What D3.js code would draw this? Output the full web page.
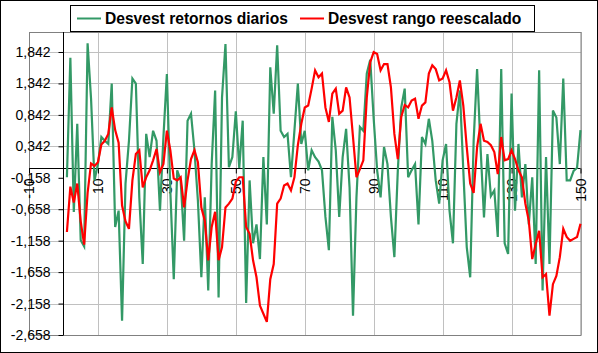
<!DOCTYPE html>
<html lang="es">
<head>
    <meta charset="UTF-8">
    <title>Desvest</title>
    <script src="https://d3js.org/d3.v7.min.js"></script>
    <style>
        body { margin: 0; background: #fff; }
        svg text { font-family: "Liberation Sans", Arial, sans-serif; }
        .leg text { font-weight: bold; font-size: 15.6px; }
        .axis text { font-size: 14px; fill: #000; }
    </style>
</head>
<body>
    <svg id="chart"></svg>
    <script>
        // Datos
        const dias = d3.range(1, 151);

        const retornosDiarios = [
            -0.15, 1.75, -0.7, 0.7, -1.15, -1.25, 1.98, 1.1, -0.2, 0.06,
            0.49, 0.43, 0.38, 1.34, -0.94, -0.68, -2.43, -0.25, 0.43, 1.42,
            1.34, -0.47, -1.53, 0.54, 0.17, 0.59, 0.43, -0.68, 0.49, 1.49,
            -0.36, -1.77, -0.04, -0.2, -1.16, 0.75, 0.86, 0.28, -0.52, -1.74,
            -0.47, -1.95, 0.06, 1.23, -2.06, 1.12, 1.97, 0.01, 0.17, 0.9,
            0.0, 0.75, -2.15, -0.2, -1.2, -0.9, -1.45, 0.17, -0.9, 1.6,
            0.86, 1.95, 0.59, 0.49, 0.54, -0.15, 0.59, 1.34, 0.38, 0.59,
            -0.04, 0.28, 0.17, 0.1, -0.04, -0.78, -1.31, 0.81, 0.28, -0.78,
            0.17, 0.62, -0.31, -2.35, -0.47, 0.65, 0.59, 1.5, 1.72, 0.78,
            -0.04, -0.47, 0.33, 0.06, -0.78, -1.42, -0.04, 0.96, 1.26, -0.15,
            -0.04, 0.06, -0.9, 0.49, 0.38, 0.78, 0.43, -0.2, -0.57, 0.12,
            0.38, -0.68, -1.2, 0.7, 1.23, -0.04, -1.26, -1.74, 0.43, 1.57,
            0.33, -0.79, 0.22, -0.45, -0.36, -1.1, 1.57, -1.2, -1.37, 1.18,
            -0.68, 0.38, -0.47, 0.06, -0.9, -0.15, -1.53, 1.55, -1.95, 0.17,
            -1.53, 0.91, 0.8, 0.06, 1.42, -0.2, -0.2, -0.05, 0.0, 0.6
        ];

        const rangoReescalado = [
            -1.02, -0.3, -0.55, -0.25, -0.85, -1.22, -0.4, 0.07, 0.03, 0.09,
            0.37, 0.43, 0.54, 0.96, 0.6, 0.4, -0.6, -0.85, -0.97, -0.2,
            0.22, 0.28, -0.31, -0.15, -0.04, 0.12, 0.3, -0.07, 0.06, 0.59,
            0.28, -0.17, -0.2, -0.15, -0.63, -0.2, 0.14, 0.28, 0.09, -0.63,
            -0.84, -1.47, -0.94, -0.7, -1.47, -1.26, -0.63, -0.57, -0.49, -0.22,
            -0.15, -0.15, -0.94, -1.05, -1.47, -1.74, -2.19, -2.32, -2.45, -1.77,
            -1.53, -0.57, -0.49, -0.28, -0.25, -0.36, -0.15, 0.36, 0.7, 0.96,
            0.99, 1.26, 1.55, 1.44, 1.5, 0.96, 0.73, 1.18, 1.26, 0.86,
            0.91, 1.28, 1.12, 0.49, -0.15, -0.02, 0.12, 1.12, 1.68, 1.84,
            1.81, 1.55, 1.65, 1.65, 1.28, 0.54, 0.14, 0.81, 1.0, 0.96,
            1.07, 1.1, 0.78, 0.99, 1.04, 1.5, 1.63, 1.57, 1.39, 1.42,
            1.55, 1.36, 0.91, 1.12, 1.39, 0.99, 0.33, -0.25, -0.4, 0.33,
            0.7, 0.43, 0.41, 0.36, 0.25, -0.1, 0.49, 0.12, 0.14, 0.28,
            0.14, -0.04, -0.15, -0.57, -0.84, -1.45, -1.21, -1.0, -1.74, -1.69,
            -2.35, -1.85, -1.72, -1.42, -0.97, -1.1, -1.16, -1.13, -1.1, -0.89
        ];

        const xTicks = [-10, 10, 30, 50, 70, 90, 110, 130, 150];
        const yTicks = [-2.658, -2.158, -1.658, -1.158, -0.658, -0.158, 0.342, 0.842, 1.342, 1.842];

        const series = [
            { name: "Desvest retornos diarios", values: retornosDiarios, color: "#339966" },
            { name: "Desvest rango reescalado", values: rangoReescalado, color: "#ff0000" }
        ];

        const width = 598, height = 353;
        const plot = { left: 29, right: 580.5, top: 32, bottom: 335 };

        const x = d3.scaleLinear().domain([-10, 150]).range([plot.left, plot.right]);
        const y = d3.scaleLinear().domain([-2.658, 2.16]).range([plot.bottom, plot.top]);

        const fmt = v => v.toFixed(3).replace(".", ",");

        const svg = d3.select("#chart")
            .attr("width", width)
            .attr("height", height);

        svg.append("rect")
            .attr("x", 0.5).attr("y", 0.5)
            .attr("width", width - 1).attr("height", height - 1)
            .attr("fill", "#fff").attr("stroke", "#000");

        // gridlines
        const grid = svg.append("g").attr("stroke", "#c0c0c0").attr("shape-rendering", "crispEdges");
        grid.selectAll(".gy")
            .data(yTicks.filter(d => d !== -0.158))
            .enter().append("line")
            .attr("x1", plot.left).attr("x2", plot.right)
            .attr("y1", d => Math.round(y(d)) + 0.5).attr("y2", d => Math.round(y(d)) + 0.5);
        grid.selectAll(".gx")
            .data(xTicks)
            .enter().append("line")
            .attr("x1", d => Math.round(x(d)) + 0.5).attr("x2", d => Math.round(x(d)) + 0.5)
            .attr("y1", plot.top).attr("y2", plot.bottom);

        svg.append("rect")
            .attr("x", plot.left + 0.5).attr("y", plot.top + 0.5)
            .attr("width", plot.right - plot.left).attr("height", plot.bottom - plot.top)
            .attr("fill", "none").attr("stroke", "#808080");

        // y axis at x = 0
        const yAxis = svg.append("g")
            .attr("class", "axis")
            .attr("transform", "translate(" + (Math.round(x(0)) + 0.5) + ",0)")
            .call(d3.axisLeft(y).tickValues(yTicks).tickFormat(fmt).tickSize(5).tickPadding(8));
        yAxis.selectAll("path, line").attr("stroke", "#000");
        yAxis.select(".domain").attr("d", "M0," + plot.top + "V" + plot.bottom);

        // x axis at y = 0
        const xAxis = svg.append("g")
            .attr("class", "axis")
            .attr("transform", "translate(0," + (Math.round(y(0)) + 0.5) + ")")
            .call(d3.axisBottom(x).tickValues(xTicks).tickFormat(d => d).tickSize(5).tickPadding(0));
        xAxis.selectAll("path, line").attr("stroke", "#000");
        xAxis.select(".domain").attr("d", "M" + plot.left + ",0H" + plot.right);
        xAxis.selectAll("text")
            .attr("transform", "rotate(-90)")
            .attr("x", -10).attr("y", 0).attr("dy", "0.35em")
            .attr("text-anchor", "end");

        // lines
        const line = d3.line()
            .x((d, i) => x(dias[i]))
            .y(d => y(d));

        svg.selectAll(".serie")
            .data(series)
            .enter().append("path")
            .attr("class", "serie")
            .attr("fill", "none")
            .attr("stroke", d => d.color)
            .attr("stroke-width", 2.2)
            .attr("d", d => line(d.values));

        // legend
        const leg = svg.append("g").attr("class", "leg");
        leg.append("rect")
            .attr("x", 70.5).attr("y", 5.5)
            .attr("width", 464).attr("height", 26)
            .attr("fill", "#fff").attr("stroke", "#000");
        const legX = [77, 300];
        series.forEach((s, i) => {
            leg.append("line")
                .attr("x1", legX[i]).attr("x2", legX[i] + 24)
                .attr("y1", 18.5).attr("y2", 18.5)
                .attr("stroke", s.color).attr("stroke-width", 2);
            leg.append("text")
                .attr("x", legX[i] + 28).attr("y", 24)
                .text(s.name);
        });
    </script>
</body>
</html>
